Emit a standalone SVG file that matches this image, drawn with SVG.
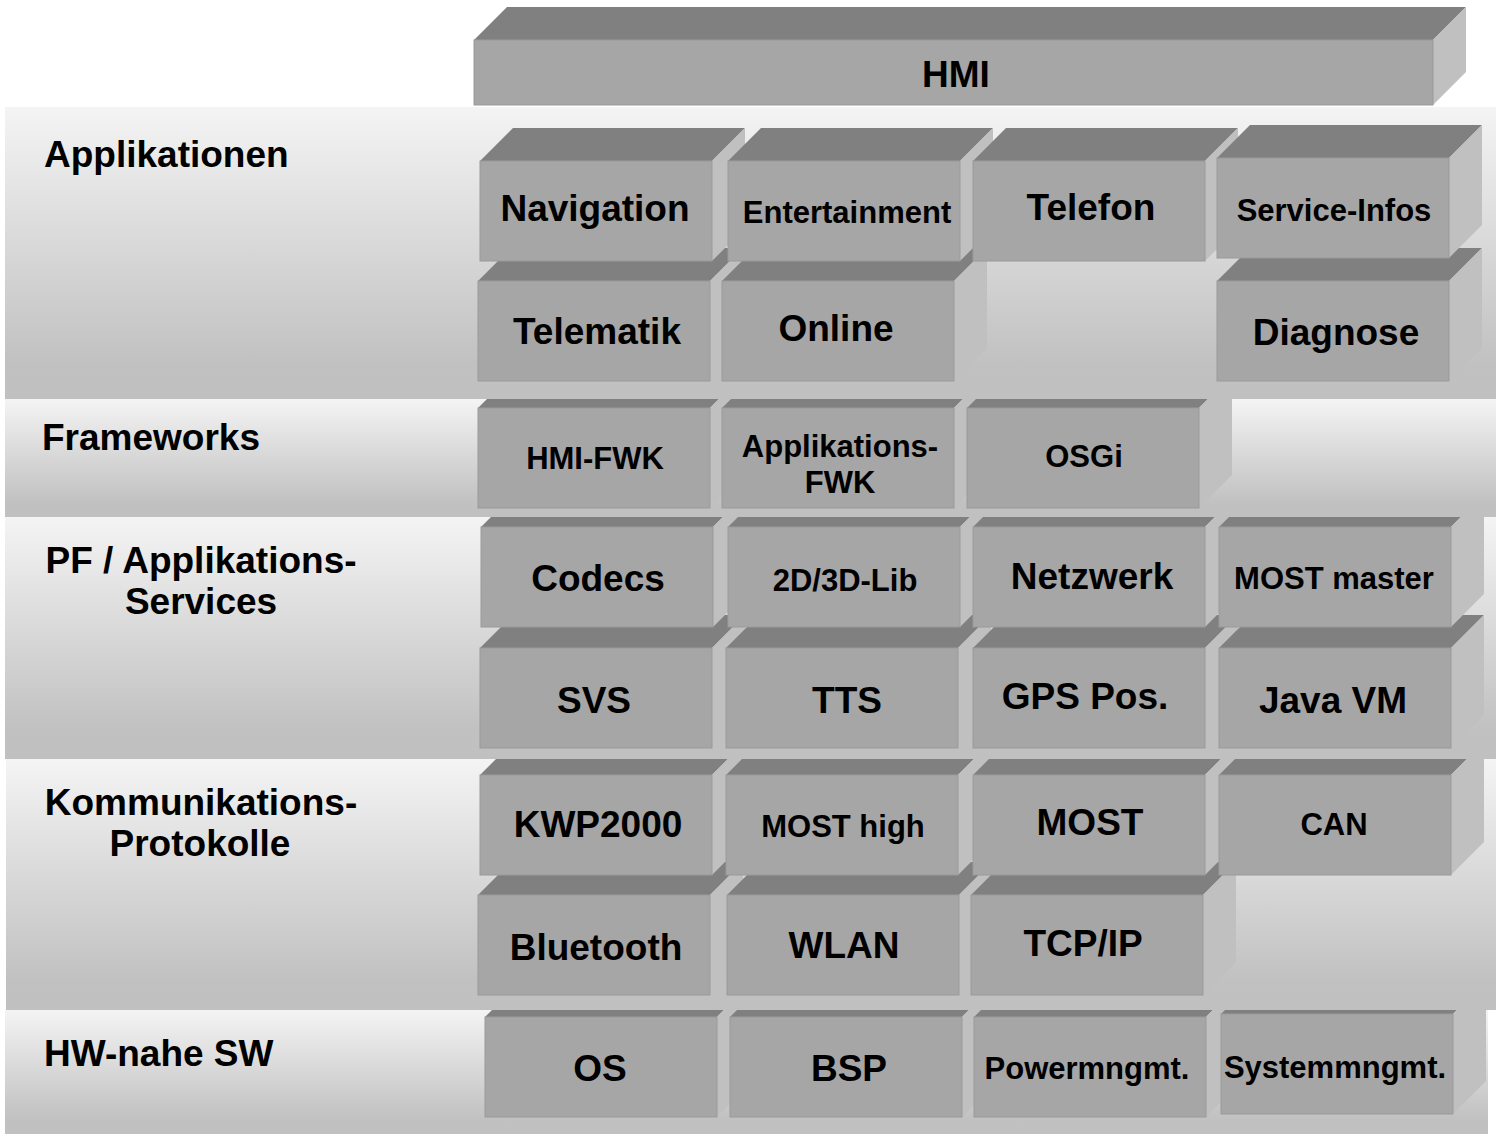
<svg xmlns="http://www.w3.org/2000/svg" width="1496" height="1134" viewBox="0 0 1496 1134">
<style>
.top{fill:#808080}
.side{fill:#c0c0c0}
.front{fill:#a6a6a6;stroke:#9a9a9a;stroke-width:1}
.band{fill:url(#bandGrad)}
text{font-family:"Liberation Sans",Arial,Helvetica,sans-serif;font-weight:bold;fill:#000}
.c{text-anchor:middle}
.l{font-size:37px}
.m{font-size:31px}
</style>
<defs>
<linearGradient id="bandGrad" x1="0" y1="0" x2="0" y2="1">
<stop offset="0" stop-color="#f4f4f4"/>
<stop offset="0.88" stop-color="#c1c1c1"/>
<stop offset="1" stop-color="#c0c0c0"/>
</linearGradient>
<clipPath id="clip1"><rect x="0" y="107" width="1496" height="292"/></clipPath>
<clipPath id="clip2"><rect x="0" y="399" width="1496" height="118"/></clipPath>
<clipPath id="clip3"><rect x="0" y="517" width="1496" height="242"/></clipPath>
<clipPath id="clip4"><rect x="0" y="759" width="1496" height="251"/></clipPath>
<clipPath id="clip5"><rect x="0" y="1010" width="1496" height="124"/></clipPath>
<g id="box3d">
<polygon class="top" points="0,0 33,-33 265,-33 232,0"/>
<polygon class="side" points="232,0 265,-33 265,67 232,100"/>
<rect class="front" x="0" y="0" width="232" height="100"/>
</g>
</defs>
<rect x="0" y="0" width="1496" height="1134" fill="#ffffff"/>

<g id="hmi">
<polygon class="top" points="474,40 507,7 1466,7 1433,40"/>
<polygon class="side" points="1433,40 1466,7 1466,72 1433,105"/>
<rect class="front" x="474" y="40" width="959" height="65"/>
<text class="c l" x="956" y="87">HMI</text>
</g>

<g id="layer-applikationen">
<rect class="band" x="5" y="107" width="1491" height="292"/>
<text class="l" x="44" y="167">Applikationen</text>
<g clip-path="url(#clip1)">
<g id="telematik"><use href="#box3d" x="478" y="281"/><text class="c l" x="597" y="344">Telematik</text></g>
<g id="online"><use href="#box3d" x="722" y="281"/><text class="c l" x="836" y="341">Online</text></g>
<g id="diagnose"><use href="#box3d" x="1217" y="281"/><text class="c l" x="1336" y="345">Diagnose</text></g>
<g id="navigation"><use href="#box3d" x="480" y="161"/><text class="c l" x="595" y="221">Navigation</text></g>
<g id="entertainment"><use href="#box3d" x="728" y="161"/><text class="c m" x="847" y="223">Entertainment</text></g>
<g id="telefon"><use href="#box3d" x="973" y="161"/><text class="c l" x="1091" y="220">Telefon</text></g>
<g id="service-infos"><use href="#box3d" x="1217" y="158"/><text class="c m" x="1334" y="221">Service-Infos</text></g>
</g>
</g>

<g id="layer-frameworks">
<rect class="band" x="5" y="399" width="1491" height="118"/>
<text class="l" x="42" y="450">Frameworks</text>
<g clip-path="url(#clip2)">
<g id="hmi-fwk"><use href="#box3d" x="478" y="408"/><text class="c m" x="595" y="469">HMI-FWK</text></g>
<g id="applikations-fwk"><use href="#box3d" x="722" y="408"/><text class="c m" x="840" y="457">Applikations-</text><text class="c m" x="840" y="493">FWK</text></g>
<g id="osgi"><use href="#box3d" x="967" y="408"/><text class="c m" x="1084" y="467">OSGi</text></g>
</g>
</g>

<g id="layer-services">
<rect class="band" x="5" y="517" width="1491" height="242"/>
<text class="c l" x="201" y="573">PF / Applikations-</text>
<text class="c l" x="201" y="614">Services</text>
<g clip-path="url(#clip3)">
<g id="svs"><use href="#box3d" x="480" y="648"/><text class="c l" x="594" y="713">SVS</text></g>
<g id="tts"><use href="#box3d" x="726" y="648"/><text class="c l" x="847" y="713">TTS</text></g>
<g id="gps-pos"><use href="#box3d" x="973" y="648"/><text class="c l" x="1085" y="709">GPS Pos.</text></g>
<g id="java-vm"><use href="#box3d" x="1219" y="648"/><text class="c l" x="1333" y="713">Java VM</text></g>
<g id="codecs"><use href="#box3d" x="481" y="527"/><text class="c l" x="598" y="591">Codecs</text></g>
<g id="lib-2d3d"><use href="#box3d" x="728" y="527"/><text class="c m" x="845" y="591">2D/3D-Lib</text></g>
<g id="netzwerk"><use href="#box3d" x="973" y="527"/><text class="c l" x="1092" y="589">Netzwerk</text></g>
<g id="most-master"><use href="#box3d" x="1219" y="527"/><text class="c m" x="1334" y="589">MOST master</text></g>
</g>
</g>

<g id="layer-kommunikation">
<rect class="band" x="6" y="759" width="1490" height="251"/>
<text class="c l" x="201" y="815">Kommunikations-</text>
<text class="c l" x="200" y="856">Protokolle</text>
<g clip-path="url(#clip4)">
<g id="bluetooth"><use href="#box3d" x="478" y="895"/><text class="c l" x="596" y="960">Bluetooth</text></g>
<g id="wlan"><use href="#box3d" x="727" y="895"/><text class="c l" x="844" y="958">WLAN</text></g>
<g id="tcp-ip"><use href="#box3d" x="971" y="895"/><text class="c l" x="1083" y="956">TCP/IP</text></g>
<g id="kwp2000"><use href="#box3d" x="480" y="775"/><text class="c l" x="598" y="837">KWP2000</text></g>
<g id="most-high"><use href="#box3d" x="726" y="775"/><text class="c m" x="843" y="837">MOST high</text></g>
<g id="most"><use href="#box3d" x="973" y="775"/><text class="c l" x="1090" y="835">MOST</text></g>
<g id="can"><use href="#box3d" x="1219" y="775"/><text class="c m" x="1334" y="835">CAN</text></g>
</g>
</g>

<g id="layer-hw">
<rect class="band" x="5" y="1010" width="1483" height="124"/>
<text class="l" x="44" y="1066">HW-nahe SW</text>
<g clip-path="url(#clip5)">
<g id="os"><use href="#box3d" x="485" y="1017"/><text class="c l" x="600" y="1081">OS</text></g>
<g id="bsp"><use href="#box3d" x="730" y="1017"/><text class="c l" x="849" y="1081">BSP</text></g>
<g id="powermngmt"><use href="#box3d" x="974" y="1017"/><text class="c m" x="1087" y="1079">Powermngmt.</text></g>
<g id="systemmngmt"><use href="#box3d" x="1221" y="1014"/><text class="c m" x="1335" y="1078">Systemmngmt.</text></g>
</g>
</g>

<g id="connectors"/>
</svg>
